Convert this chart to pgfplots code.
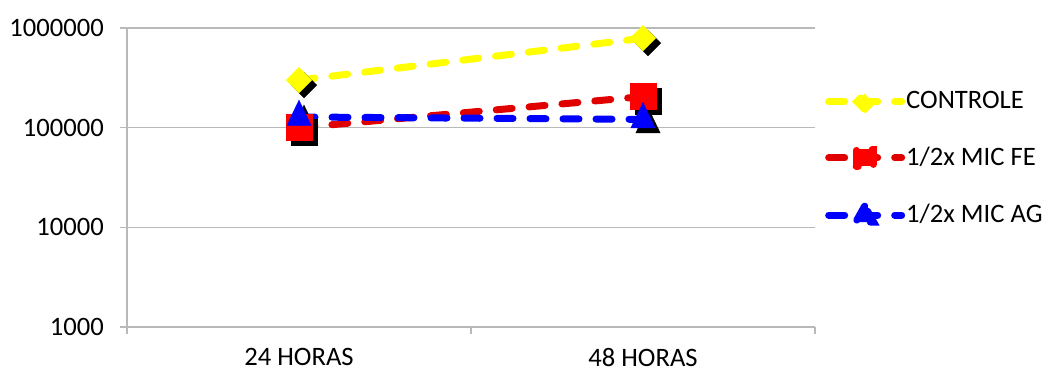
\documentclass[border=0pt]{standalone}
\usepackage{pgfplots}
\pgfplotsset{compat=1.18}
\usepackage{fontspec}
\setmainfont{Carlito}

\definecolor{gridgray}{RGB}{185,185,185}
\definecolor{cyellow}{RGB}{255,255,0}
\definecolor{cred}{RGB}{255,0,0}
\definecolor{credline}{RGB}{225,0,0}
\definecolor{cblue}{RGB}{0,0,255}

\tikzset{
  dline/.style={line width=7pt, dash pattern=on 16pt off 17pt, line cap=round},
}

\begin{document}
\fontsize{26.6pt}{31pt}\selectfont
\begin{tikzpicture}
\useasboundingbox (0,0) rectangle (1043pt,372pt);
\begin{axis}[
  at={(127pt,45pt)}, anchor=south west,
  scale only axis, width=688pt, height=299pt,
  xmin=0, xmax=2,
  ymode=log, ymin=1000, ymax=1000000,
  axis x line*=bottom, axis y line*=left,
  axis line style={gridgray, line width=1.3pt, -},
  tick align=outside,
  major tick length=7pt, minor tick length=7pt,
  tick style={gridgray, line width=1.3pt},
  xtick={0.5,1.5}, xticklabels={24 HORAS, 48 HORAS},
  major x tick style={draw=none},
  minor xtick={0,1,2},
  ytick={1000,10000,100000,1000000},
  yticklabels={1000,10000,100000,1000000},
  yminorticks=false,
  ymajorgrids, grid style={gridgray, line width=1.3pt},
  yticklabel style={anchor=east, inner sep=0pt, xshift=-16pt},
  xticklabel style={anchor=north, inner sep=0pt, yshift=-14pt},
  legend style={draw=none, fill=none, at={(axis description cs:1.0145,0.563)},
    anchor=west, inner sep=0pt, row sep=32.5pt,
    nodes={inner sep=1pt, anchor=west}},
  legend cell align=left,
  clip=false,
]
% drop shadows of the markers
\addplot[forget plot, only marks, black, mark=square*, mark size=9pt,
  mark options={xshift=5pt, yshift=-5pt, rotate=45}]
  coordinates {(0.5,300000) (1.5,790000)};
\addplot[forget plot, only marks, black, mark=square*, mark size=13pt,
  mark options={xshift=5pt, yshift=-5pt}]
  coordinates {(0.5,100000) (1.5,205000)};
\addplot[forget plot, only marks, black, mark=triangle*, mark size=14pt,
  mark options={xshift=5pt, yshift=-5pt, yscale=1.2}]
  coordinates {(0.5,128000) (1.5,121000)};

% series
\addplot[cyellow, dline, mark=square*, mark size=9pt,
  mark options={solid, rotate=45, line width=0.4pt, fill=cyellow, draw=cyellow},
  legend image code/.code={
    \draw[cyellow, dline] (0pt,0pt) -- (73pt,0pt);
    \fill[cyellow, rotate around={45:(36pt,0pt)}] (30.5pt,-5.5pt) rectangle (41.5pt,5.5pt);
  }]
  coordinates {(0.5,300000) (1.5,790000)};
\addlegendentry{CONTROLE}

\addplot[credline, dline, mark=square*, mark size=13pt,
  mark options={solid, line width=0.4pt, fill=cred, draw=cred},
  legend image code/.code={
    \draw[credline, dline] (0pt,0pt) -- (73pt,0pt);
    \fill[cred] (27.5pt,-8.5pt) rectangle (44.5pt,8.5pt);
  }]
  coordinates {(0.5,100000) (1.5,205000)};
\addlegendentry{1/2x MIC FE}

\addplot[cblue, dline, mark=triangle*, mark size=14pt,
  mark options={solid, yscale=1.2, line width=0.4pt, fill=cblue, draw=cblue},
  legend image code/.code={
    \draw[cblue, dline] (0pt,0pt) -- (73pt,0pt);
    \fill[cblue] (36pt,9pt) -- (27pt,-7pt) -- (45pt,-7pt) -- cycle;
  }]
  coordinates {(0.5,128000) (1.5,121000)};
\addlegendentry{1/2x MIC AG}
\end{axis}
\end{tikzpicture}
\end{document}
